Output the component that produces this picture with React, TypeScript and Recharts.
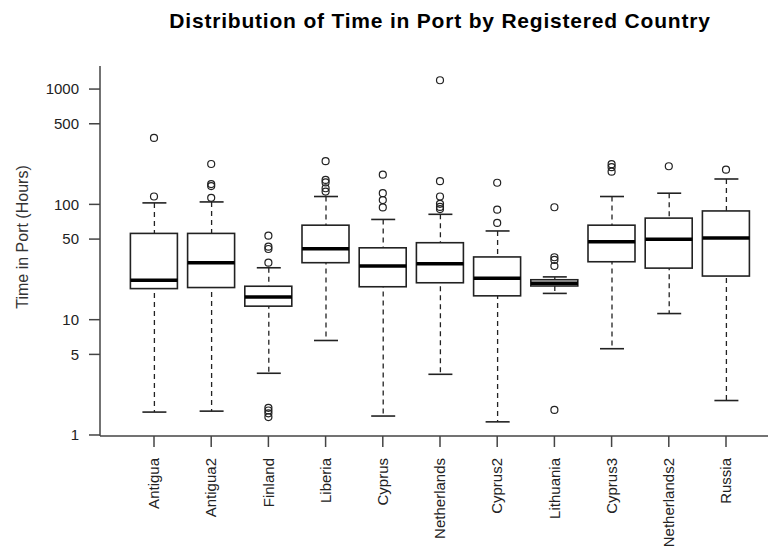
import React from "react";
import { ComposedChart, Bar, Scatter, XAxis, YAxis } from "recharts";

const countries = [
  "Antigua",
  "Antigua2",
  "Finland",
  "Liberia",
  "Cyprus",
  "Netherlands",
  "Cyprus2",
  "Lithuania",
  "Cyprus3",
  "Netherlands2",
  "Russia",
];

// five-number summaries, hours
const lowerWhisker = [1.58, 1.61, 3.43, 6.6, 1.46, 3.36, 1.3, 16.9, 5.6, 11.3, 1.99];
const q1 = [18.6, 19, 13.1, 31.2, 19.3, 20.9, 16.1, 19.6, 31.8, 28, 23.9];
const medians = [22, 31.2, 15.7, 41.3, 29.2, 30.6, 22.9, 20.7, 47.5, 49.8, 51];
const q3 = [56, 56, 19.5, 66, 42, 46.5, 35, 22.2, 66, 76, 87.7];
const upperWhisker = [103, 105, 28.2, 117, 74, 82, 58.8, 23.5, 117, 125, 166];

const outliers = [
  [377, 117],
  [224, 150, 144, 114],
  [53.5, 43, 41, 31.2, 1.72, 1.63, 1.54, 1.43],
  [237, 163, 155, 138, 129],
  [181, 125, 109, 94],
  [1192, 159, 117, 101, 95, 91],
  [154, 90, 69],
  [94.4, 34.8, 33, 29.2, 1.65],
  [223, 210, 192],
  [214],
  [200],
];

const yTicks = [1, 5, 10, 50, 100, 500, 1000];

const rows = countries.map((name, i) => ({
  name,
  whisker: [lowerWhisker[i], upperWhisker[i]],
  box: [q1[i], q3[i]],
  median: medians[i],
}));

const outlierRows = countries.flatMap((name, i) =>
  outliers[i].map((value) => ({ name, value }))
);

const FONT = '"Liberation Sans", Arial, sans-serif';
const INK = "#222";
const AXIS = "#444";
const BOX_W = 47;
const PAD = { left: 25.4, right: 25.4 };

function WhiskerShape(props: any) {
  const { x, y, width, height } = props;
  if (x == null || y == null) return null;
  const cx = x + width / 2;
  return (
    <g>
      <line x1={cx} x2={cx} y1={y} y2={y + height} stroke={INK} strokeWidth={1.3} strokeDasharray="5 4" />
      <line x1={x} x2={x + width} y1={y} y2={y} stroke={INK} strokeWidth={1.6} />
      <line x1={x} x2={x + width} y1={y + height} y2={y + height} stroke={INK} strokeWidth={1.6} />
    </g>
  );
}

function BoxShape(props: any) {
  const { x, y, width, height } = props;
  if (x == null || y == null) return null;
  return <rect x={x} y={y} width={width} height={height} fill="#fff" stroke={INK} strokeWidth={1.6} />;
}

function MedianShape(props: any) {
  const { cx, cy } = props;
  if (cx == null || cy == null) return null;
  return <line x1={cx - BOX_W / 2} x2={cx + BOX_W / 2} y1={cy} y2={cy} stroke="#000" strokeWidth={3.5} />;
}

function OutlierShape(props: any) {
  const { cx, cy } = props;
  if (cx == null || cy == null) return null;
  return <circle cx={cx} cy={cy} r={3.5} fill="none" stroke={INK} strokeWidth={1.2} />;
}

function CountryTick(props: any) {
  const { x, y, payload } = props;
  return (
    <text
      x={x}
      y={y}
      transform={`rotate(-90 ${x} ${y})`}
      textAnchor="end"
      dy="0.35em"
      fontSize={15}
      fontFamily={FONT}
      fill={INK}
    >
      {payload.value}
    </text>
  );
}

function YTitle() {
  return (
    <text
      x={22}
      y={237}
      transform="rotate(-90 22 237)"
      textAnchor="middle"
      dy="0.35em"
      fontSize={16}
      fontFamily={FONT}
      fill="#333"
    >
      Time in Port (Hours)
    </text>
  );
}

export default function App() {
  return (
    <div
      style={{
        position: "absolute",
        left: 0,
        top: 0,
        width: 768,
        height: 546,
        overflow: "hidden",
        background: "#fff",
        fontFamily: FONT,
      }}
    >
      <ComposedChart
        width={800}
        height={546}
        data={rows}
        margin={{ top: 66, right: 20, bottom: 0, left: 0 }}
      >
        <XAxis
          xAxisId="main"
          dataKey="name"
          type="category"
          padding={PAD}
          height={110}
          interval={0}
          tickSize={11}
          tickMargin={11}
          tick={<CountryTick />}
          axisLine={{ stroke: AXIS, strokeWidth: 1.5 }}
          tickLine={{ stroke: AXIS, strokeWidth: 1.5 }}
        />
        <XAxis xAxisId="whisk" dataKey="name" type="category" padding={PAD} hide />
        <XAxis
          xAxisId="out"
          dataKey="name"
          type="category"
          padding={PAD}
          allowDuplicatedCategory={false}
          hide
        />
        <XAxis
          xAxisId="top"
          dataKey="name"
          orientation="top"
          height={0}
          tick={false}
          tickLine={false}
          axisLine={{ stroke: AXIS, strokeWidth: 1.5 }}
        />
        <YAxis
          type="number"
          scale="log"
          domain={[0.98, 1585]}
          allowDataOverflow
          ticks={yTicks}
          interval={0}
          width={100}
          tickSize={11}
          tickMargin={10}
          tick={{ fontSize: 15, fill: INK, fontFamily: FONT }}
          axisLine={{ stroke: AXIS, strokeWidth: 1.5 }}
          tickLine={{ stroke: AXIS, strokeWidth: 1.5 }}
          label={<YTitle />}
        />
        <Bar xAxisId="whisk" dataKey="whisker" barSize={24} shape={<WhiskerShape />} isAnimationActive={false} />
        <Bar xAxisId="main" dataKey="box" barSize={BOX_W} shape={<BoxShape />} isAnimationActive={false} />
        <Scatter xAxisId="main" dataKey="median" shape={<MedianShape />} isAnimationActive={false} />
        <Scatter
          xAxisId="out"
          data={outlierRows}
          dataKey="value"
          shape={<OutlierShape />}
          isAnimationActive={false}
        />
      </ComposedChart>
      <div
        style={{
          position: "absolute",
          left: 0,
          top: 10,
          width: 880,
          textAlign: "center",
          fontSize: 21,
          fontWeight: "bold",
          lineHeight: "21px",
          letterSpacing: 0.8,
          color: "#000",
        }}
      >
        Distribution of Time in Port by Registered Country
      </div>
    </div>
  );
}
